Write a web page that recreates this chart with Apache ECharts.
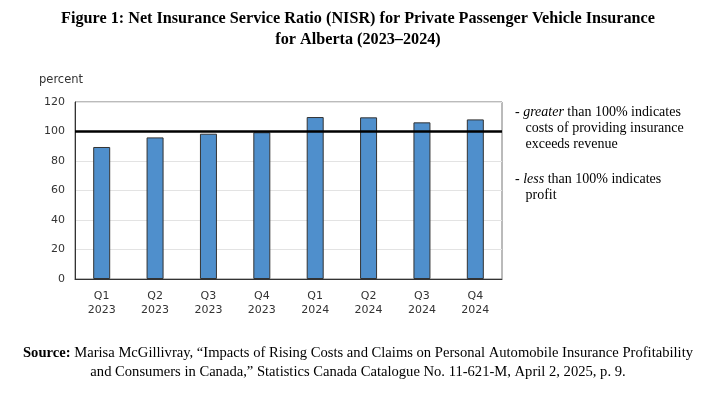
<!DOCTYPE html>
<html>
<head>
<meta charset="utf-8">
<script src="https://cdn.jsdelivr.net/npm/echarts@6/dist/echarts.min.js"></script>
<style>html,body{margin:0;padding:0;background:#fff}#c{width:727px;height:395px}</style>
</head>
<body>
<div id="c"></div>
<script>
const quarters = ['Q1\n2023','Q2\n2023','Q3\n2023','Q4\n2023','Q1\n2024','Q2\n2024','Q3\n2024','Q4\n2024'];
const nisr = [89.5, 96, 98.5, 99.5, 109.8, 109.6, 106.2, 108.2];
const breakEven = 100;
const yTicks = [0, 20, 40, 60, 80, 100, 120];

const chart = echarts.init(document.getElementById('c'), null, {renderer:'canvas'});
const serif = '"Liberation Serif", "Times New Roman", serif';
const sans = '"DejaVu Sans", Verdana, sans-serif';
chart.setOption({
  animation: false,
  backgroundColor: '#fff',
  grid: {left: 75, right: 225, top: 102, bottom: 116, show: true, borderColor: '#777', borderWidth: 1},
  xAxis: {
    type: 'category', data: quarters,
    axisLine: {lineStyle: {color: '#333'}},
    axisTick: {show: false},
    axisLabel: {fontFamily: sans, fontSize: 11, color: '#333', lineHeight: 14, margin: 10}
  },
  yAxis: {
    type: 'value', min: yTicks[0], max: yTicks[yTicks.length-1], interval: 20,
    name: 'percent', nameLocation: 'end', nameGap: 16,
    nameTextStyle: {fontFamily: sans, fontSize: 11.5, color: '#333', align: 'left', padding: [0,0,0,-36]},
    axisLine: {show: true, lineStyle: {color: '#333'}},
    axisTick: {show: false},
    axisLabel: {fontFamily: sans, fontSize: 11, color: '#333', margin: 10},
    splitLine: {lineStyle: {color: '#e3e3e3'}}
  },
  series: [{
    type: 'bar', data: nisr, barWidth: 17,
    itemStyle: {color: '#4f8fcc', borderColor: '#333', borderWidth: 1},
    markLine: {
      symbol: 'none', silent: true, label: {show: false},
      lineStyle: {color: '#000', width: 2.5, type: 'solid'},
      data: [{yAxis: breakEven}]
    }
  }],
  graphic: [
    {type: 'text', x: 358, y: 8, style: {
      text: 'Figure 1: Net Insurance Service Ratio (NISR) for Private Passenger Vehicle Insurance\nfor Alberta (2023–2024)',
      font: 'bold 16.2px ' + serif, fill: '#000', lineHeight: 21, align: 'center'
    }},
    {type: 'text', left: 515, top: 104, style: {
      text: '- {i|greater} than 100% indicates\n   costs of providing insurance\n   exceeds revenue',
      font: '14px ' + serif, fill: '#000', lineHeight: 16,
      rich: {i: {fontStyle: 'italic', fontFamily: serif, fontSize: 14}}
    }},
    {type: 'text', left: 515, top: 171, style: {
      text: '- {i|less} than 100% indicates\n   profit',
      font: '14px ' + serif, fill: '#000', lineHeight: 16,
      rich: {i: {fontStyle: 'italic', fontFamily: serif, fontSize: 14}}
    }},
    {type: 'text', x: 358, y: 344, style: {
      text: '{b|Source:} Marisa McGillivray, “Impacts of Rising Costs and Claims on Personal Automobile Insurance Profitability\nand Consumers in Canada,” Statistics Canada Catalogue No. 11-621-M, April 2, 2025, p. 9.',
      font: '14.6px ' + serif, fill: '#000', lineHeight: 19, align: 'center',
      rich: {b: {fontWeight: 'bold', fontFamily: serif, fontSize: 14.6}}
    }}
  ]
});
</script>
</body>
</html>
